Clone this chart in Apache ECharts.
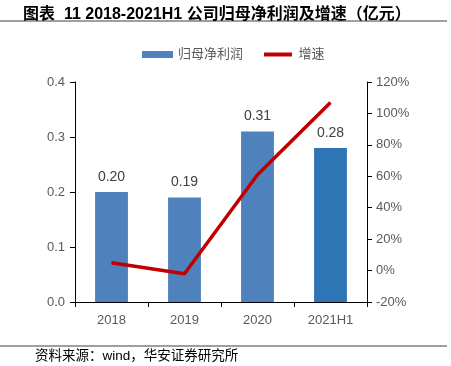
<!DOCTYPE html>
<html>
<head>
<meta charset="utf-8">
<script src="https://cdn.jsdelivr.net/npm/echarts@6/dist/echarts.min.js"></script>
<style>
html, body { margin: 0; padding: 0; background: #fff; }
#chart { width: 451px; height: 366px; }
</style>
</head>
<body>
<div id="chart"></div>
<script>
// 年份
const years = ['2018', '2019', '2020', '2021H1'];
// 归母净利润（亿元）
const profit = [0.20, 0.19, 0.31, 0.28];
// 增速（%）
const growth = [5, -2, 61, 107];
const barColors = ['#4f81bd', '#4f81bd', '#4f81bd', '#2e75b6'];

const chart = echarts.init(document.getElementById('chart'));
const font = '"Liberation Sans", "Noto Sans CJK SC", sans-serif';

chart.setOption({
    animation: false,
    textStyle: { fontFamily: font },
    title: {
        text: '图表  11 2018-2021H1 公司归母净利润及增速（亿元）',
        left: 18,
        top: 2,
        textStyle: { fontSize: 16, fontWeight: 'bold', color: '#000', fontFamily: font }
    },
    graphic: [
        { type: 'line', shape: { x1: 0, y1: 21, x2: 447, y2: 21 }, style: { stroke: '#7f7f7f', lineWidth: 1.5 } },
        { type: 'line', shape: { x1: 0, y1: 346, x2: 447, y2: 346 }, style: { stroke: '#7f7f7f', lineWidth: 1.5 } },
        {
            type: 'text', left: 35, top: 350,
            style: { text: '资料来源：wind，华安证券研究所', fontSize: 13.5, fill: '#000', fontFamily: font }
        }
    ],
    legend: {
        top: 43,
        left: 137,
        itemGap: 18,
        itemWidth: 31,
        itemHeight: 7,
        textStyle: { fontSize: 13, color: '#595959' },
        data: [
            { name: '归母净利润', icon: 'rect', itemStyle: { color: '#4f81bd' } },
            { name: '增速', icon: 'roundRect', itemStyle: { color: '#c00000', borderColor: '#fff', borderWidth: 3 } }
        ]
    },
    grid: { left: 75, right: 84, top: 82, bottom: 64 },
    xAxis: {
        type: 'category',
        data: years,
        axisLine: { lineStyle: { color: '#000' } },
        axisTick: { show: true, alignWithLabel: false, length: 5, lineStyle: { color: '#000' } },
        axisLabel: { fontSize: 13, color: '#595959', margin: 12 }
    },
    yAxis: [
        {
            type: 'value', min: 0, max: 0.4, interval: 0.1,
            axisLine: { show: true, lineStyle: { color: '#000' } },
            axisTick: { show: true, length: 5, lineStyle: { color: '#000' } },
            splitLine: { show: false },
            axisLabel: { fontSize: 13, color: '#595959', formatter: v => v.toFixed(1), margin: 10 }
        },
        {
            type: 'value', min: -20, max: 120, interval: 20,
            axisLine: { show: true, lineStyle: { color: '#000' } },
            axisTick: { show: true, length: 5, lineStyle: { color: '#000' } },
            splitLine: { show: false },
            axisLabel: { fontSize: 13, color: '#595959', formatter: '{value}%', margin: 9 }
        }
    ],
    series: [
        {
            name: '归母净利润',
            type: 'bar',
            barWidth: '45%',
            data: profit.map((v, i) => ({ value: v, itemStyle: { color: barColors[i] } })),
            label: {
                show: true, position: 'top', distance: 8, fontSize: 14, color: '#404040',
                formatter: p => p.value.toFixed(2)
            }
        },
        {
            name: '增速',
            type: 'line',
            yAxisIndex: 1,
            data: growth,
            symbol: 'none',
            lineStyle: { color: '#c00000', width: 3.5 },
            itemStyle: { color: '#c00000' }
        }
    ]
});
</script>
</body>
</html>
